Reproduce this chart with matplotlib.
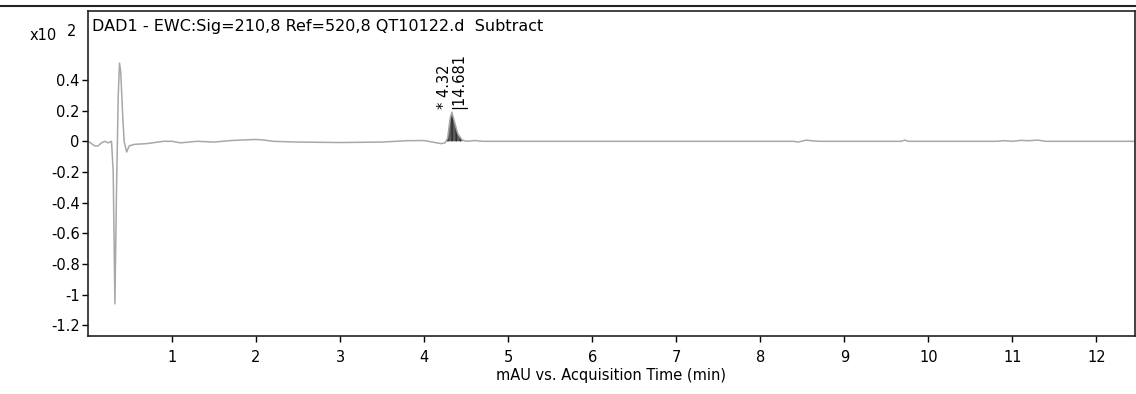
import numpy as np
import matplotlib
matplotlib.use("Agg")
import matplotlib.pyplot as plt
from matplotlib.lines import Line2D

plt.rcParams['font.family'] = ['DejaVu Sans']

# chromatogram trace (x10^2 mAU)
time_min = [0.00, 0.03, 0.08, 0.12, 0.16, 0.20, 0.24, 0.28, 0.30, 0.32,
            0.34, 0.36, 0.375, 0.39, 0.41, 0.43, 0.46, 0.49, 0.55, 0.70,
            0.90, 1.00, 1.10, 1.30, 1.50, 1.70, 1.90, 2.00, 2.10, 2.20,
            2.50, 3.00, 3.50, 3.80, 4.00, 4.10, 4.20, 4.25, 4.28, 4.31,
            4.33, 4.36, 4.40, 4.45, 4.50, 4.60, 4.70, 5.50, 7.00, 8.40,
            8.45, 8.55, 8.60, 8.70, 9.68, 9.72, 9.76, 10.80, 10.90, 11.00,
            11.10, 11.20, 11.30, 11.40, 12.46]
signal = [0.00, -0.01, -0.03, -0.03, -0.01, 0.00, -0.01, 0.00, -0.20, -1.06,
          -0.30, 0.30, 0.51, 0.45, 0.20, 0.00, -0.07, -0.03, -0.02, -0.015,
          0.00, 0.00, -0.01, 0.00, -0.005, 0.005, 0.01, 0.012, 0.008, 0.00,
          -0.005, -0.008, -0.005, 0.004, 0.005, -0.005, -0.015, -0.01, 0.02, 0.15,
          0.19, 0.13, 0.05, 0.01, 0.00, 0.005, 0.00, 0.00, 0.00, 0.00,
          -0.005, 0.008, 0.004, 0.00, 0.00, 0.008, 0.00, 0.00, 0.004, 0.00,
          0.006, 0.004, 0.008, 0.00, 0.00]

peak_rt = 4.32
peak_area = "14.681"
peak_start, peak_end = 4.27, 4.46

x_ticks = [1, 2, 3, 4, 5, 6, 7, 8, 9, 10, 11, 12]
y_ticks = [0.4, 0.2, 0, -0.2, -0.4, -0.6, -0.8, -1, -1.2]

t = np.array(time_min)
s = np.array(signal)

fig = plt.figure(figsize=(11.36, 3.94), dpi=100)
ax = fig.add_axes([88 / 1136, 1 - 336 / 394, 1047 / 1136, 325 / 394])

ax.plot(t, s, color='#a8a8a8', lw=1.1)

# integrated peak
fine = np.linspace(peak_start, peak_end, 60)
ax.fill_between(fine, 0, np.interp(fine, t, s), color='#5a5a5a',
                hatch='||||', edgecolor='#2a2a2a', linewidth=0)

ax.text(peak_rt - 0.08, 0.21, "* 4.32", rotation=90, ha='center', va='bottom',
        fontsize=10.5)
ax.text(peak_rt + 0.10, 0.21, "|" + peak_area, rotation=90, ha='center',
        va='bottom', fontsize=10.5)

ax.text(0.004, 0.975, "DAD1 - EWC:Sig=210,8 Ref=520,8 QT10122.d  Subtract",
        transform=ax.transAxes, ha='left', va='top', fontsize=11.5)

ax.set_xlim(0, 12.46)
ax.set_ylim(-1.27, 0.85)
ax.set_xticks(x_ticks)
ax.set_yticks(y_ticks)
ax.set_yticklabels(['0.4', '0.2', '0', '-0.2', '-0.4', '-0.6', '-0.8', '-1', '-1.2'])
ax.tick_params(direction='out', length=4, width=1, labelsize=10.5, pad=2)
ax.tick_params(axis='x', pad=6)
ax.set_xlabel("mAU vs. Acquisition Time (min)", fontsize=10.5, labelpad=2)
for sp in ax.spines.values():
    sp.set_linewidth(1.2)
    sp.set_color('#222222')

fig.text(30 / 1136, 1 - 36 / 394, "x10", ha='left', va='center', fontsize=10.5)
fig.text(67 / 1136, 1 - 32 / 394, "2", ha='left', va='center', fontsize=10.5)

fig.add_artist(Line2D([0, 1], [1 - 6 / 394, 1 - 6 / 394], color='#222222',
                      lw=1.5, transform=fig.transFigure))

fig.savefig("out.png", dpi=100)
